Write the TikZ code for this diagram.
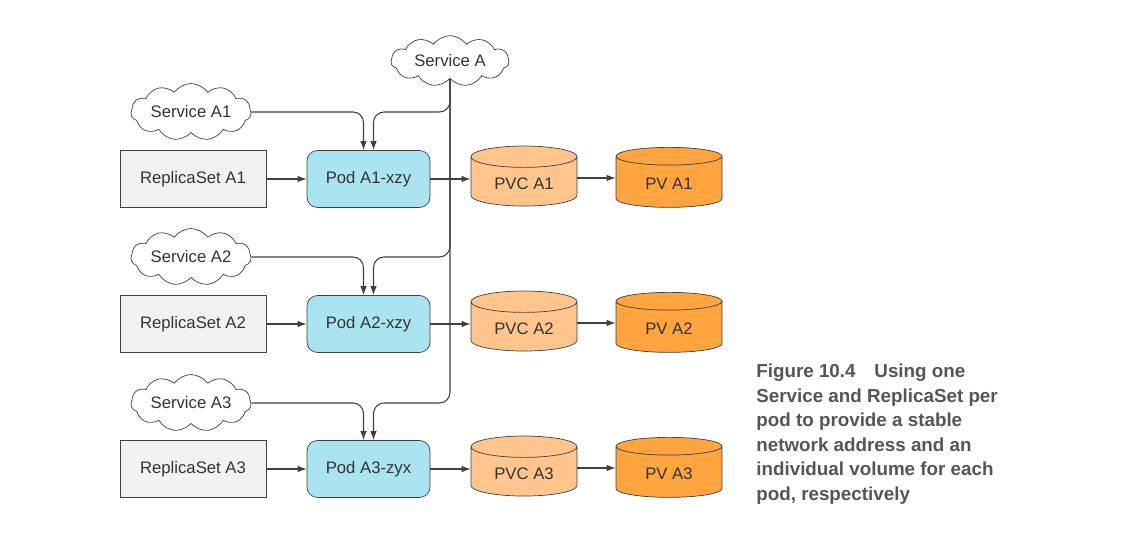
\documentclass[tikz,border=0pt]{standalone}
\usepackage{fontspec}
\setmainfont{Liberation Sans}
\definecolor{kbLine}{HTML}{404040}
\definecolor{kbText}{HTML}{333333}
\definecolor{kbBox}{HTML}{F2F2F2}
\definecolor{kbPod}{HTML}{AAE4F0}
\definecolor{kbPvc}{HTML}{FFC58C}
\definecolor{kbPv}{HTML}{FFA43F}
\definecolor{kbCaption}{HTML}{555555}
\usetikzlibrary{calc,positioning,arrows.meta,shapes.geometric,shapes.symbols}
\tikzset{
  svc/.style={cloud, cloud puffs=11, cloud puff arc=110, aspect=2.9, draw=kbLine,
    fill=white, text=kbText, font=\fontsize{9.5}{11}\selectfont,
    minimum width=2.36cm, minimum height=0.84cm, inner sep=1pt},
  rsbox/.style={draw=kbLine, fill=kbBox, text=kbText, font=\fontsize{9.5}{11}\selectfont,
    minimum width=2.92cm, minimum height=1.14cm},
  podbox/.style={draw=kbLine, fill=kbPod, rounded corners=6pt, text=kbText,
    font=\fontsize{9.5}{11}\selectfont, minimum width=2.46cm, minimum height=1.14cm},
  vol/.style={cylinder, shape border rotate=90, aspect=0.3, draw=kbLine, text=kbText,
    font=\fontsize{9.5}{11}\selectfont, minimum width=2.12cm, minimum height=1.2cm},
  conn/.style={draw=kbLine, line width=0.6pt},
  arr/.style={conn, -{Latex[length=1.8mm,width=1.3mm]}}
}
\begin{document}
\begin{tikzpicture}
  \useasboundingbox (0,0) rectangle (22.7,10.72);

  % Service A
  \node[svc] (svcA) at (9.0, 9.5) {Service A};

  % Services per pod
  \node[svc] (svc1) at (3.82, 8.48) {Service A1};
  \node[svc] (svc2) at (3.82, 5.58) {Service A2};
  \node[svc] (svc3) at (3.82, 2.66) {Service A3};

  % ReplicaSets
  \node[rsbox] (rs1) at (3.86, 7.14) {ReplicaSet A1};
  \node[rsbox] (rs2) at (3.86, 4.24) {ReplicaSet A2};
  \node[rsbox] (rs3) at (3.86, 1.34) {ReplicaSet A3};

  % Pods
  \node[podbox] (pod1) at (7.37, 7.14) {Pod A1-xzy};
  \node[podbox] (pod2) at (7.37, 4.24) {Pod A2-xzy};
  \node[podbox] (pod3) at (7.37, 1.34) {Pod A3-zyx};

  % Volumes
  \node[vol, fill=kbPvc] (pvc1) at (10.48, 7.04) {PVC A1};
  \node[vol, fill=kbPvc] (pvc2) at (10.48, 4.14) {PVC A2};
  \node[vol, fill=kbPvc] (pvc3) at (10.48, 1.24) {PVC A3};
  \node[vol, fill=kbPv] (pv1) at (13.38, 7.04) {PV A1};
  \node[vol, fill=kbPv] (pv2) at (13.38, 4.14) {PV A2};
  \node[vol, fill=kbPv] (pv3) at (13.38, 1.24) {PV A3};

  % Links from the services
  \draw[arr, rounded corners=6pt] (svc1.east) -| ([xshift=-1mm]pod1.north);
  \draw[arr, rounded corners=6pt] (svc2.east) -| ([xshift=-1mm]pod2.north);
  \draw[arr, rounded corners=6pt] (svc3.east) -| ([xshift=-1mm]pod3.north);
  \draw[arr, rounded corners=6pt] (svcA.south) -- (svcA.south |- svc1.east) -| ([xshift=1mm]pod1.north);
  \draw[arr, rounded corners=6pt] (svcA.south) -- (svcA.south |- svc2.east) -| ([xshift=1mm]pod2.north);
  \draw[arr, rounded corners=6pt] (svcA.south) -- (svcA.south |- svc3.east) -| ([xshift=1mm]pod3.north);

  % Links along each row
  \draw[arr] (rs1) -- (pod1);
  \draw[arr] (rs2) -- (pod2);
  \draw[arr] (rs3) -- (pod3);
  \draw[arr] (pod1.east) -- (pod1.east -| pvc1.west);
  \draw[arr] (pod2.east) -- (pod2.east -| pvc2.west);
  \draw[arr] (pod3.east) -- (pod3.east -| pvc3.west);
  \draw[arr] ([yshift=1.2mm]pvc1.east) -- ([yshift=1.2mm]pv1.west);
  \draw[arr] ([yshift=1.2mm]pvc2.east) -- ([yshift=1.2mm]pv2.west);
  \draw[arr] ([yshift=1.2mm]pvc3.east) -- ([yshift=1.2mm]pv3.west);

  % Caption
  \node[text=kbCaption, font=\fontsize{10.7}{14}\selectfont\bfseries, align=left,
    anchor=north west, inner sep=0pt] (caption) at (15.12, 3.45)
    {Figure 10.4\quad Using one\\Service and ReplicaSet per\\pod to provide a stable\\
     network address and an\\individual volume for each\\pod, respectively};
\end{tikzpicture}
\end{document}
